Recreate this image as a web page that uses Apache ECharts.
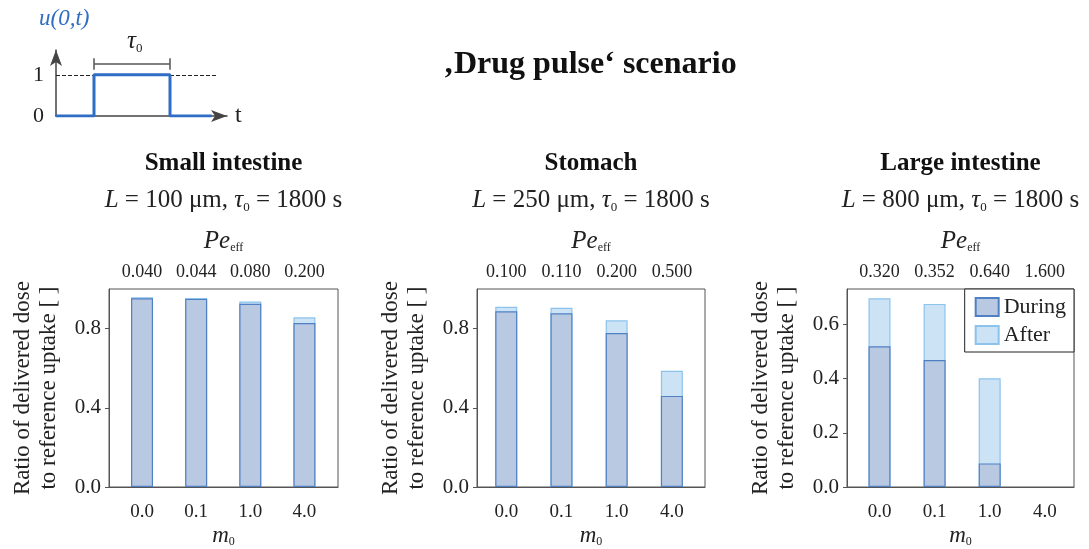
<!DOCTYPE html>
<html>
<head>
<meta charset="utf-8">
<script src="https://cdn.jsdelivr.net/npm/echarts@6/dist/echarts.min.js"></script>
<style>html,body{margin:0;padding:0;background:#fff}#c{width:1089px;height:549px}</style>
</head>
<body>
<div id="c"></div>
<script>
// ---------- data ----------
const m0Labels = ['0.0', '0.1', '1.0', '4.0'];
const peSmall = ['0.040', '0.044', '0.080', '0.200'];
const peStomach = ['0.100', '0.110', '0.200', '0.500'];
const peLarge = ['0.320', '0.352', '0.640', '1.600'];

// "During" = dose delivered during the pulse; "Total" = during + after (top of light bar)
const smallDuring = [0.953, 0.950, 0.925, 0.828];
const smallTotal = [0.958, 0.955, 0.937, 0.857];
const stomachDuring = [0.887, 0.877, 0.778, 0.460];
const stomachTotal = [0.910, 0.905, 0.842, 0.587];
const largeDuring = [0.519, 0.468, 0.087, null];
const largeTotal = [0.696, 0.675, 0.401, null];

const panelTitles = ['Small intestine', 'Stomach', 'Large intestine'];
const panelL = ['100', '250', '800'];
const panelTau = '1800';

const yTicks12 = [0, 0.4, 0.8];
const yTicks3 = [0, 0.2, 0.4, 0.6];

// inset pulse u(0,t)
const pulseT = [0, 1, 1, 3, 3, 4.1];
const pulseU = [0, 0, 1, 1, 0, 0];

// ---------- style / layout ----------
const FONT = 'Liberation Serif';
const AX = '#555';
const duringStyle = { color: '#b9c9e2', borderColor: '#4f80c3', borderWidth: 1.2 };
const afterStyle = { color: '#cbe3f5', borderColor: '#8cc3ec', borderWidth: 1.2 };

const grids = [
  { left: 109, top: 289, width: 229, height: 201 },
  { left: 477, top: 289, width: 228, height: 201 },
  { left: 847, top: 289, width: 227, height: 201 }
];
const xMin = [-0.61, -0.53, -0.59];
const xMax = [3.62, 3.60, 3.53];
const yMax = [1.0, 1.0, 0.73];

const peSets = [peSmall, peStomach, peLarge];
const duringSets = [smallDuring, stomachDuring, largeDuring];
const totalSets = [smallTotal, stomachTotal, largeTotal];
const yTickSets = [yTicks12, yTicks12, yTicks3];
const catIdx = m0Labels.map((_, k) => k);

const subRich = (size) => ({ fontFamily: FONT, fontSize: size, color: '#222', fill: '#222', padding: [Math.round(size * 1.1), 0, 0, 0] });

const option = {
  backgroundColor: '#fff',
  animation: false,
  textStyle: { fontFamily: FONT, color: '#222' },
  grid: [], xAxis: [], yAxis: [], series: [],
  legend: {
    data: ['During', 'After'],
    orient: 'vertical',
    right: 15, top: 289,
    itemWidth: 23, itemHeight: 18, itemGap: 6,
    padding: [7, 8, 6, 10],
    borderColor: '#222', borderWidth: 1,
    backgroundColor: '#fff',
    icon: 'rect',
    textStyle: { fontFamily: FONT, fontSize: 22, color: '#222' }
  },
  graphic: []
};

grids.forEach((g, i) => {
  option.grid.push(Object.assign({ show: true, borderColor: AX, borderWidth: 1, backgroundColor: 'transparent' }, g));
  // bottom axis (m0)
  option.xAxis.push({
    type: 'value', gridIndex: i, min: xMin[i], max: xMax[i], position: 'bottom',
    axisLine: { onZero: false, lineStyle: { color: AX, width: 1 } },
    axisTick: { show: false }, splitLine: { show: false },
    axisLabel: { fontFamily: FONT, fontSize: 19, color: '#222', margin: 16,
      customValues: catIdx, formatter: v => m0Labels[Math.round(v)] },
    name: '{m|m}{s|0}', nameLocation: 'middle', nameGap: 36,
    nameTextStyle: { rich: {
      m: { fontFamily: FONT, fontStyle: 'italic', fontSize: 23, color: '#222' },
      s: subRich(12)
    } }
  });
  // top axis (Pe_eff)
  option.xAxis.push({
    type: 'value', gridIndex: i, min: xMin[i], max: xMax[i], position: 'top',
    axisLine: { show: false }, axisTick: { show: false }, splitLine: { show: false },
    axisLabel: { fontFamily: FONT, fontSize: 18, color: '#222', margin: 8,
      customValues: catIdx, formatter: v => peSets[i][Math.round(v)] },
    name: '{p|Pe}{s|eff}', nameLocation: 'middle', nameGap: 35,
    nameTextStyle: { rich: {
      p: { fontFamily: FONT, fontStyle: 'italic', fontSize: 25, color: '#222' },
      s: subRich(12)
    } }
  });
  option.yAxis.push({
    type: 'value', gridIndex: i, min: 0, max: yMax[i],
    axisLine: { show: true, onZero: false, lineStyle: { color: AX, width: 1 } },
    axisTick: { show: true, length: 4, lineStyle: { color: AX }, customValues: yTickSets[i] },
    splitLine: { show: false },
    axisLabel: { fontFamily: FONT, fontSize: 21, color: '#222', margin: 8,
      customValues: yTickSets[i], formatter: v => v.toFixed(1) },
    name: 'Ratio of delivered dose\nto reference uptake [ ]',
    nameLocation: 'middle', nameRotate: 90, nameGap: 47,
    nameTextStyle: { fontFamily: FONT, fontSize: 23, lineHeight: 26, color: '#222' }
  });
  // light "After" bar reaches the total; "During" bar is drawn over its lower part
  option.series.push({
    name: 'After', type: 'bar', barGap: '-100%',
    xAxisIndex: 2 * i, yAxisIndex: i, z: 2,
    data: totalSets[i].map((v, k) => [k, v == null ? '-' : v]),
    barWidth: 22, itemStyle: afterStyle
  });
  option.series.push({
    name: 'During', type: 'bar', barGap: '-100%',
    xAxisIndex: 2 * i, yAxisIndex: i, z: 3,
    data: duringSets[i].map((v, k) => [k, v == null ? '-' : v]),
    barWidth: 22, itemStyle: duringStyle
  });
  const cx = g.left + g.width / 2;
  option.graphic.push({
    type: 'text', z: 10, position: [cx, 151],
    style: { text: panelTitles[i], align: 'center', font: 'bold 25px "' + FONT + '"', fill: '#111' }
  });
  option.graphic.push({
    type: 'text', z: 10, position: [cx, 187],
    style: {
      text: '{i|L} = ' + panelL[i] + ' μm, {i|τ}{s|0} = ' + panelTau + ' s',
      align: 'center', font: '25px "' + FONT + '"', fill: '#222',
      rich: {
        i: { fontStyle: 'italic', fontFamily: FONT, fontSize: 25, fill: '#222' },
        s: subRich(13)
      }
    }
  });
});

// ---------- inset pulse diagram ----------
const insetIdx = grids.length;
option.grid.push({ left: 56, top: 50, width: 171, height: 66 });
option.xAxis.push({
  type: 'value', gridIndex: insetIdx, min: 0, max: 4.5,
  axisLine: { show: true, symbol: ['none', 'arrow'], symbolSize: [9, 16], lineStyle: { color: '#444', width: 1.5 } },
  axisTick: { show: false }, axisLabel: { show: false }, splitLine: { show: false },
  name: 't', nameLocation: 'end', nameGap: 8,
  nameTextStyle: { fontFamily: FONT, fontSize: 24, color: '#222', verticalAlign: 'middle', padding: [0, 0, 3, 0] }
});
option.yAxis.push({
  type: 'value', gridIndex: insetIdx, min: 0, max: 1.6,
  axisLine: { show: true, symbol: ['none', 'arrow'], symbolSize: [9, 16], lineStyle: { color: '#444', width: 1.5 } },
  axisTick: { show: false }, splitLine: { show: false },
  axisLabel: { fontFamily: FONT, fontSize: 22, color: '#222', margin: 12, customValues: [0, 1], formatter: v => String(v) }
});
option.series.push({
  type: 'line', xAxisIndex: 2 * grids.length, yAxisIndex: insetIdx,
  data: pulseT.map((t, k) => [t, pulseU[k]]),
  showSymbol: false, symbol: 'none',
  lineStyle: { color: '#2f6ec4', width: 3 }, z: 5,
  markLine: {
    silent: true, symbol: 'none', label: { show: false },
    data: [
      [{ coord: [0, 1], lineStyle: { type: 'dashed', color: '#222', width: 1 } }, { coord: [4.22, 1] }],
      [{ coord: [1, 1.26], lineStyle: { type: 'solid', color: '#555', width: 1.5 } }, { coord: [3, 1.26] }],
      [{ coord: [1, 1.12], lineStyle: { type: 'solid', color: '#555', width: 1.5 } }, { coord: [1, 1.4] }],
      [{ coord: [3, 1.12], lineStyle: { type: 'solid', color: '#555', width: 1.5 } }, { coord: [3, 1.4] }]
    ]
  }
});
option.graphic.push({
  type: 'text', position: [39, 7], z: 10,
  style: { text: 'u(0,t)', font: 'italic 23px "' + FONT + '"', fill: '#2f6ec4' }
});
option.graphic.push({
  type: 'text', position: [127, 28], z: 10,
  style: { text: '{t|τ}{s|0}', font: '24px "' + FONT + '"', fill: '#222',
    rich: { t: { fontStyle: 'italic', fontFamily: FONT, fontSize: 25, fill: '#222' },
            s: subRich(13) } }
});
option.graphic.push({
  type: 'text', position: [590, 49], z: 10,
  style: { text: '‚Drug pulse‘ scenario', align: 'center', font: 'bold 32px "' + FONT + '"', fill: '#111' }
});

const chart = echarts.init(document.getElementById('c'), null, { renderer: 'canvas' });
chart.setOption(option);
</script>
</body>
</html>
